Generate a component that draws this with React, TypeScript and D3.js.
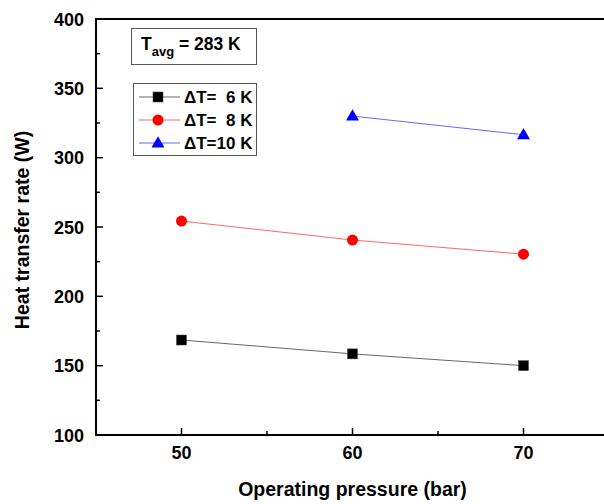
import React from "react";
import * as d3 from "d3";

const pressures = [50, 60, 70];
const dT6 = [168.5, 158.5, 150];
const dT8 = [254.3, 240.6, 230.4];
const pressures10 = [60, 70];
const dT10 = [330, 316.5];
const xTicks = [50, 60, 70];
const xMinor = [45, 55, 65, 75];
const yTicks = [100, 150, 200, 250, 300, 350, 400];
const yMinor = [125, 175, 225, 275, 325, 375];

const W = 604, H = 504;
const font = "'Liberation Sans', Arial, sans-serif";

export default function App() {
  const x = d3.scaleLinear().domain([45, 75]).range([96, 609]);
  const y = d3.scaleLinear().domain([100, 400]).range([435, 19]);
  const line = d3.line<[number, number]>().x(d => x(d[0])).y(d => y(d[1]));

  const series = [
    { xs: pressures, ys: dT6, color: "#000", lineColor: "#666", shape: "square", label: "\u0394T=  6 K" },
    { xs: pressures, ys: dT8, color: "#ff0000", lineColor: "#ff6666", shape: "circle", label: "\u0394T=  8 K" },
    { xs: pressures10, ys: dT10, color: "#0000ff", lineColor: "#6666ff", shape: "triangle", label: "\u0394T=10 K" },
  ];

  const marker = (shape: string, cx: number, cy: number, color: string, key: string) => {
    if (shape === "square") return <rect key={key} x={cx - 5} y={cy - 5} width={10} height={10} fill={color} stroke="#444" strokeWidth={0.5} />;
    if (shape === "circle") return <circle key={key} cx={cx} cy={cy} r={5.5} fill={color} />;
    const s = 13;
    const h = s * 0.866;
    return <path key={key} d={`M${cx},${cy - h * 0.6}L${cx + s / 2},${cy + h * 0.4}L${cx - s / 2},${cy + h * 0.4}Z`} fill={color} />;
  };

  return (
    <svg width={W} height={H} style={{ position: "absolute", left: 0, top: 0, background: "#fff" }}>
      {/* lines and markers */}
      {series.map((s, i) => (
        <g key={i}>
          <path d={line(s.xs.map((v, j) => [v, s.ys[j]]) as [number, number][]) || ""} fill="none" stroke={s.lineColor} strokeWidth={1} />
          {s.xs.map((v, j) => marker(s.shape, x(v), y(s.ys[j]), s.color, `m${i}-${j}`))}
        </g>
      ))}

      {/* axes frame */}
      <line x1={96} x2={609} y1={19} y2={19} stroke="#000" strokeWidth={2} />
      <line x1={96} x2={96} y1={18} y2={436} stroke="#000" strokeWidth={2} />
      <line x1={95} x2={609} y1={435} y2={435} stroke="#000" strokeWidth={2} />

      {/* x ticks */}
      {xTicks.map(t => (
        <g key={`xt${t}`}>
          <line x1={x(t)} x2={x(t)} y1={435} y2={428} stroke="#000" strokeWidth={1.5} />
          <text x={x(t)} y={459} textAnchor="middle" fontFamily={font} fontWeight="bold" fontSize={18}>{t}</text>
        </g>
      ))}
      {xMinor.map(t => (
        <line key={`xm${t}`} x1={x(t)} x2={x(t)} y1={435} y2={431} stroke="#000" strokeWidth={1.5} />
      ))}

      {/* y ticks */}
      {yTicks.map(t => (
        <g key={`yt${t}`}>
          <line x1={96} x2={103} y1={y(t)} y2={y(t)} stroke="#000" strokeWidth={1.5} />
          <text x={84} y={y(t) + 6.5} textAnchor="end" fontFamily={font} fontWeight="bold" fontSize={18}>{t}</text>
        </g>
      ))}
      {yMinor.map(t => (
        <line key={`ym${t}`} x1={96} x2={100} y1={y(t)} y2={y(t)} stroke="#000" strokeWidth={1.5} />
      ))}

      {/* axis titles */}
      <text x={352.5} y={496} textAnchor="middle" fontFamily={font} fontWeight="bold" fontSize={19.5}>Operating pressure (bar)</text>
      <text transform="translate(29,230) rotate(-90)" textAnchor="middle" fontFamily={font} fontWeight="bold" fontSize={19.5}>Heat transfer rate (W)</text>

      {/* annotation box */}
      <rect x={131.5} y={28.5} width={125} height={36} fill="#fff" stroke="#555" strokeWidth={1} />
      <text x={141} y={50} fontFamily={font} fontWeight="bold" fontSize={17.5}>
        T<tspan fontSize={13} dy={6}>avg</tspan><tspan dy={-6}> = 283 K</tspan>
      </text>

      {/* legend */}
      <rect x={133.5} y={83.5} width={123} height={72} fill="#fff" stroke="#555" strokeWidth={1} />
      {series.map((s, i) => {
        const ly = 97 + i * 23;
        return (
          <g key={`lg${i}`}>
            <line x1={139} x2={180} y1={ly} y2={ly} stroke={s.lineColor} strokeWidth={1} />
            {marker(s.shape, 158, ly, s.color, `lm${i}`)}
            <text x={184} y={ly + 6} fontFamily={font} fontWeight="bold" fontSize={17} style={{ whiteSpace: "pre" }}>{s.label}</text>
          </g>
        );
      })}
    </svg>
  );
}
